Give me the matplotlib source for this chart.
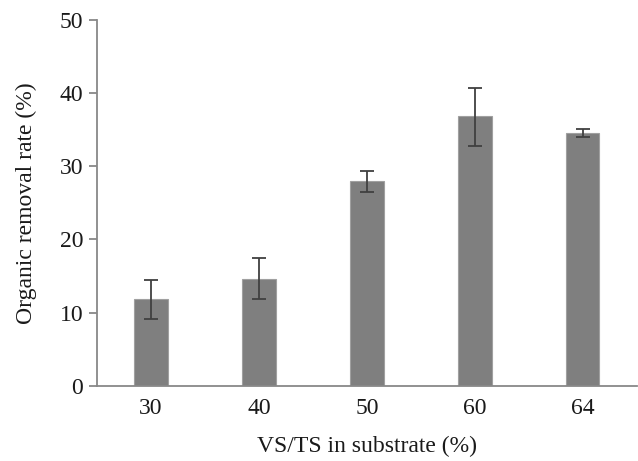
import matplotlib
matplotlib.use("Agg")
import matplotlib.pyplot as plt
import numpy as np

plt.rcParams['font.family'] = ['Liberation Serif', 'DejaVu Serif']

# VS/TS ratio in substrate (%) and organic removal rate (%)
categories = ['30', '40', '50', '60', '64']
removal_rate = [11.8, 14.6, 28.0, 36.8, 34.5]
err_low = [9.2, 11.8, 26.5, 32.8, 34.05]
err_high = [14.4, 17.5, 29.4, 40.7, 35.1]

x = np.arange(len(categories))
yerr = [np.array(removal_rate) - np.array(err_low),
        np.array(err_high) - np.array(removal_rate)]

fig = plt.figure(figsize=(6.38, 4.61), dpi=100)
ax = fig.add_axes([0.152, 0.163, 0.846, 0.794])

axis_color = '#888888'
text_color = '#1a1a1a'
ax.bar(x, removal_rate, width=0.31, color='#7f7f7f', edgecolor='#a0a0a0', linewidth=0.8)
ax.errorbar(x, removal_rate, yerr=yerr, fmt='none', ecolor='#404040',
            elinewidth=1.3, capsize=5, capthick=1.3)

ax.set_xlim(-0.5, 4.5)
ax.set_ylim(0, 50)
ax.set_yticks([0, 10, 20, 30, 40, 50])
ax.set_xticks(x)
ax.set_xticklabels(categories)

for side in ['top', 'right']:
    ax.spines[side].set_visible(False)
for side in ['left', 'bottom']:
    ax.spines[side].set_color(axis_color)
    ax.spines[side].set_linewidth(1.3)

ax.tick_params(axis='y', direction='out', length=6, width=1.3, color=axis_color,
               labelsize=17, pad=4, labelcolor=text_color)
ax.tick_params(axis='x', length=0, labelsize=17, pad=9, labelcolor=text_color)

ax.set_ylabel('Organic removal rate (%)', fontsize=17, labelpad=16, color=text_color)
ax.set_xlabel('VS/TS in substrate (%)', fontsize=17, labelpad=12, color=text_color)

fig.savefig('out.png', dpi=100)
